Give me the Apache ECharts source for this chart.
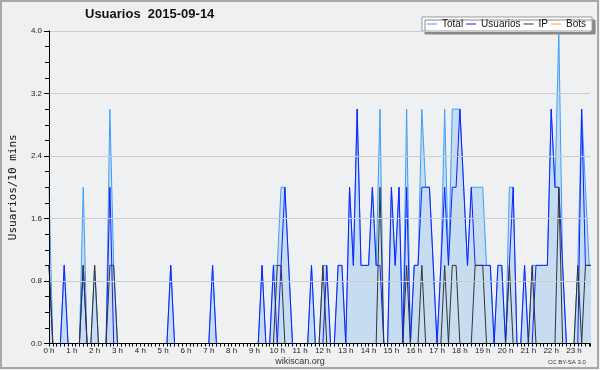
<!DOCTYPE html>
<html><head><meta charset="utf-8">
<script src="https://cdn.jsdelivr.net/npm/echarts@6/dist/echarts.min.js"></script>
<style>html,body{margin:0;padding:0;background:#eff0f2}#c{width:600px;height:370px}</style>
</head><body><div id="c"></div>
<script>
// 144 ten-minute slots (index = slot number); labels every hour
const hourLabels = ['0 h','1 h','2 h','3 h','4 h','5 h','6 h','7 h','8 h','9 h','10 h','11 h',
  '12 h','13 h','14 h','15 h','16 h','17 h','18 h','19 h','20 h','21 h','22 h','23 h'];

const total = [
  2,0,0,0,1,0,0,0,0,2,0,0,
  1,0,0,0,3,1,0,0,0,0,0,0,
  0,0,0,0,0,0,0,0,1,0,0,0,
  0,0,0,0,0,0,0,1,0,0,0,0,
  0,0,0,0,0,0,0,0,1,0,0,1,
  1,2,2,1,0,0,0,0,0,1,0,0,
  1,1,0,0,1,1,0,2,1,3,1,1,
  1,2,1,3,0,0,2,1,2,0,3,0,
  1,1,3,2,2,1,0,1,3,1,3,3,
  3,2,1,2,2,2,2,1,1,0,1,1,
  0,2,2,0,0,1,0,1,1,1,1,1,
  3,2,4,1,0,0,0,1,3,2,1,1];

const usuarios = [
  1,0,0,0,1,0,0,0,0,1,0,0,
  0,0,0,0,2,0,0,0,0,0,0,0,
  0,0,0,0,0,0,0,0,1,0,0,0,
  0,0,0,0,0,0,0,1,0,0,0,0,
  0,0,0,0,0,0,0,0,1,0,0,1,
  0,1,2,1,0,0,0,0,0,1,0,0,
  0,1,0,0,1,1,0,2,1,3,1,1,
  1,2,1,1,0,0,2,1,2,0,2,0,
  1,1,2,2,2,1,0,1,2,1,2,2,
  3,2,1,2,1,1,1,1,1,0,1,1,
  0,1,2,0,0,1,0,0,1,1,1,1,
  3,2,2,1,0,0,0,0,3,1,1,1];

const ip = [
  1,0,0,0,0,0,0,0,0,1,0,0,
  1,0,0,0,1,1,0,0,0,0,0,0,
  0,0,0,0,0,0,0,0,0,0,0,0,
  0,0,0,0,0,0,0,0,0,0,0,0,
  0,0,0,0,0,0,0,0,0,0,0,0,
  1,1,0,0,0,0,0,0,0,0,0,0,
  1,0,0,0,0,0,0,0,0,0,0,0,
  0,0,0,2,0,0,0,0,0,0,1,0,
  0,0,1,0,0,0,0,0,1,0,1,1,
  0,0,0,0,1,1,1,0,0,0,0,0,
  0,1,0,0,0,0,0,1,0,0,0,0,
  0,0,2,0,0,0,0,1,0,1,1,1];

const bots = [
  0,0,0,0,0,0,0,0,0,0,0,0,
  0,0,0,0,0,0,0,0,0,0,0,0,
  0,0,0,0,0,0,0,0,0,0,0,0,
  0,0,0,0,0,0,0,0,0,0,0,0,
  0,0,0,0,0,0,0,0,0,0,0,0,
  0,0,0,0,0,0,0,0,0,0,0,0,
  0,0,0,0,0,0,0,0,0,0,0,0,
  0,0,0,0,0,0,0,0,0,0,0,0,
  0,0,0,0,0,0,0,0,0,0,0,0,
  0,0,0,0,0,0,0,0,0,0,0,0,
  0,0,0,0,0,0,0,0,0,0,0,0,
  0,0,0,0,0,0,0,0,0,0,0,0];

const pairs = arr => arr.map((v, i) => [i, v]);
const FONT = 'Liberation Sans';

const chart = echarts.init(document.getElementById('c'), null, {renderer: 'canvas'});
chart.setOption({
  animation: false,
  backgroundColor: '#eff0f2',
  title: {
    text: 'Usuarios  2015-09-14', left: 85, top: 8, padding: 0,
    textStyle: {fontFamily: FONT, fontWeight: 'bold', fontSize: 13, color: '#111'}
  },
  legend: {
    left: 422, top: 17, orient: 'horizontal',
    padding: [2, 6, 2, 5], itemGap: 3, itemWidth: 10, itemHeight: 1,
    icon: 'rect',
    backgroundColor: '#ffffff', borderColor: '#999', borderWidth: 1,
    shadowColor: '#888', shadowBlur: 0, shadowOffsetX: 3, shadowOffsetY: 3,
    textStyle: {fontFamily: FONT, fontSize: 10, color: '#111', padding: [0,0,0,0]},
    data: ['Total', 'Usuarios', 'IP', 'Bots']
  },
  grid: {left: 46, right: 10, top: 31, bottom: 26.5, containLabel: false},
  xAxis: {
    type: 'value', min: 0, max: 142.2, interval: 1, z: 5,
    axisLine: {show: true, lineStyle: {color: '#000', width: 1}},
    axisTick: {show: true, length: 3, lineStyle: {color: '#000'}},
    splitLine: {show: false},
    axisLabel: {
      fontFamily: FONT, fontSize: 8, color: '#222', margin: 3,
      formatter: v => {
        const r = Math.round(v);
        return (Math.abs(v - r) < 1e-6 && r % 6 === 0 && r / 6 < hourLabels.length) ? hourLabels[r / 6] : '';
      }
    }
  },
  yAxis: {
    type: 'value', min: 0, max: 4, interval: 0.8, z: 5,
    name: 'Usuarios/10 mins', nameLocation: 'middle', nameGap: 30,
    nameTextStyle: {fontFamily: 'DejaVu Sans Mono', fontSize: 11, color: '#111'},
    axisLine: {show: true, lineStyle: {color: '#000', width: 1}},
    axisTick: {show: true, length: 5, lineStyle: {color: '#000'}},
    minorTick: {show: true, splitNumber: 4, length: 4, lineStyle: {color: '#000'}},
    splitLine: {show: true, lineStyle: {color: '#cccccc', width: 1}},
    axisLabel: {fontFamily: FONT, fontSize: 8, color: '#222', margin: 7,
      formatter: v => v.toFixed(1)}
  },
  series: [
    {name: 'Bots', type: 'line', data: pairs(bots), showSymbol: false, symbol: 'none', z: 1,
      color: '#ffa010', lineStyle: {color: '#ffa010', width: 1}},
    {name: 'Total', type: 'line', data: pairs(total), showSymbol: false, symbol: 'none',
      color: '#3d9ef5', lineStyle: {color: '#3d9ef5', width: 1},
      areaStyle: {color: '#c6dcf0', opacity: 1}},
    {name: 'Usuarios', type: 'line', data: pairs(usuarios), showSymbol: false, symbol: 'none',
      color: '#1020ff', lineStyle: {color: '#1020ff', width: 1}},
    {name: 'IP', type: 'line', data: pairs(ip), showSymbol: false, symbol: 'none',
      color: '#333333', lineStyle: {color: '#333333', width: 1}}
  ],
  graphic: [
    {type: 'rect', silent: true, z: 100,
      shape: {x: 1, y: 1, width: 597, height: 367},
      style: {fill: null, stroke: '#a8a8a8', lineWidth: 2}},
    {type: 'text', left: 'center', top: 357, silent: true,
      style: {text: 'wikiscan.org', font: '9px "Liberation Sans"', fill: '#333'}},
    {type: 'text', left: 548, top: 359, silent: true,
      style: {text: 'CC BY-SA 3.0', font: '6px "Liberation Sans"', fill: '#333'}}
  ]
});
</script></body></html>
